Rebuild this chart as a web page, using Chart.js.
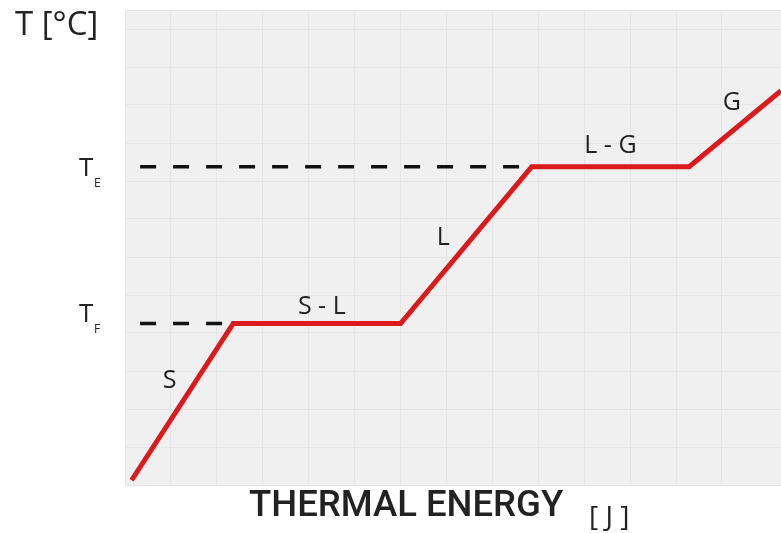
<!DOCTYPE html>
<html>
<head>
<meta charset="utf-8">
<script src="https://cdn.jsdelivr.net/npm/chart.js@4.4.0/dist/chart.umd.min.js"></script>
<style>
  html, body { margin: 0; padding: 0; background: #fff; }
  #wrap { width: 781px; height: 533px; }
</style>
</head>
<body>
<div id="wrap"><canvas id="chart"></canvas></div>
<script>
// heating curve: energy (x) vs temperature (y)
const energy = [1, 16.5, 42, 62, 86, 100];
const temperature = [1, 34, 34, 67, 67, 83];

// dashed guide lines for the two plateau temperatures
const meltGuideX = [2.3, 16.5];
const boilGuideX = [2.3, 62];
const meltTemp = 34;
const boilTemp = 67;

// phase names written on the curve
const phaseLabels = ['S', 'S - L', 'L', 'L - G', 'G'];
const phaseX = [6.8, 30, 48.5, 74, 92.5];
const phaseY = [22, 37.5, 52, 71.5, 80.5];

const ctx = document.getElementById('chart').getContext('2d');

const extras = {
    id: 'extras',
    beforeDraw(chart) {
        const a = chart.chartArea;
        const c = chart.ctx;
        c.save();
        c.fillStyle = '#f0f0f0';
        c.fillRect(a.left, a.top, a.right - a.left, a.bottom - a.top);
        c.restore();
    },
    afterDraw(chart) {
        const c = chart.ctx;
        const xs = chart.scales.x, ys = chart.scales.y;
        c.save();
        c.fillStyle = '#222';
        c.textBaseline = 'middle';

        // phase labels
        c.font = '25px "Open Sans"';
        c.textAlign = 'center';
        phaseLabels.forEach(function(t, i) {
            c.fillText(t, xs.getPixelForValue(phaseX[i]), ys.getPixelForValue(phaseY[i]));
        });

        // T_E and T_F
        function subLabel(main, sub, yVal, off) {
            const y = ys.getPixelForValue(yVal) + off;
            c.textAlign = 'left';
            c.font = '26px "Open Sans"';
            c.fillText(main, 79, y);
            c.font = '12px "Open Sans"';
            c.fillText(sub, 94, y + 15);
        }
        subLabel('T', 'E', boilTemp, 2);
        subLabel('T', 'F', meltTemp, -9);

        // axis titles
        c.textAlign = 'left';
        c.font = '33px "Open Sans"';
        c.fillText('T [°C]', 15, 26);
        c.font = '500 36.5px Roboto';
        c.fillText('THERMAL ENERGY', 249, 507);
        c.font = '28px "Open Sans"';
        c.fillText('[ J ]', 589, 518);
        c.restore();
    }
};

new Chart(ctx, {
    type: 'scatter',
    data: {
        datasets: [
            {
                data: energy.map(function(x, i) { return { x: x, y: temperature[i] }; }),
                showLine: true,
                borderColor: '#dc1a1c',
                borderWidth: 5,
                pointRadius: 0,
                borderJoinStyle: 'miter',
                order: 1
            },
            {
                data: boilGuideX.map(function(x) { return { x: x, y: boilTemp }; }),
                showLine: true,
                borderColor: '#111',
                borderWidth: 3.5,
                borderDash: [16, 17],
                pointRadius: 0,
                order: 2
            },
            {
                data: meltGuideX.map(function(x) { return { x: x, y: meltTemp }; }),
                showLine: true,
                borderColor: '#111',
                borderWidth: 3.5,
                borderDash: [16, 17],
                pointRadius: 0,
                order: 2
            }
        ]
    },
    options: {
        responsive: true,
        maintainAspectRatio: false,
        animation: false,
        layout: { padding: { left: 125, top: 10, right: 0, bottom: 48 } },
        plugins: {
            legend: { display: false },
            tooltip: { enabled: false }
        },
        scales: {
            x: {
                type: 'linear',
                min: 0,
                max: 100,
                ticks: { display: false, stepSize: 7 },
                grid: { color: '#e5e5e5', drawTicks: false },
                border: { display: false }
            },
            y: {
                type: 'linear',
                min: 0,
                max: 100,
                ticks: { display: false, stepSize: 8 },
                grid: { color: '#e5e5e5', drawTicks: false },
                border: { display: false }
            }
        }
    },
    plugins: [extras]
});
</script>
</body>
</html>
